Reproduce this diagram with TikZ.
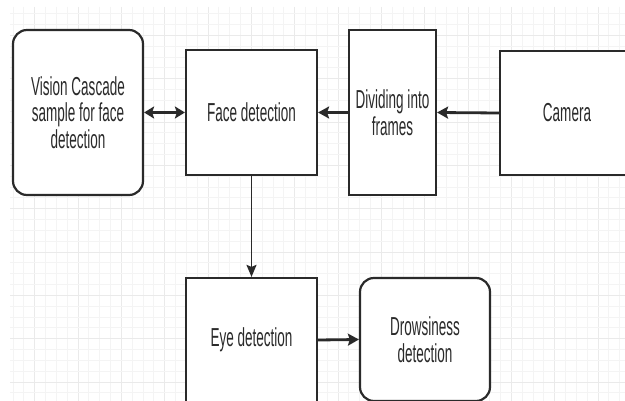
\documentclass[tikz,border=0pt]{standalone}
\usepackage{fontspec}
\setmainfont[FakeStretch=0.52]{Liberation Sans}
\usetikzlibrary{arrows.meta}
\definecolor{gridminor}{HTML}{F4F4F4}
\definecolor{gridmajor}{HTML}{EAEAEA}
\definecolor{ink}{HTML}{2A2A2A}
\tikzset{
  box/.style={draw=ink, line width=2.2pt, fill=white, inner sep=0pt, align=center,
    text=ink, font=\fontsize{26}{26.5}\selectfont},
  rbox/.style={box, rounded corners=14pt},
  conn/.style={draw=ink, line width=2.8pt, -{Stealth[length=11pt,width=12pt,inset=2pt]}},
  vconn/.style={draw=ink, line width=1.8pt, -{Stealth[length=12pt,width=10pt,inset=2pt]}},
  dconn/.style={draw=ink, line width=2.8pt, {Stealth[length=10pt,width=12pt,inset=2pt]}-{Stealth[length=10pt,width=12pt,inset=2pt]}}
}
\begin{document}
\begin{tikzpicture}[x=1pt,y=-1pt]
\useasboundingbox (0,0) rectangle (625,401);
\clip (0,0) rectangle (625,401);
\fill[white] (0,0) rectangle (625,401);
% grid
\foreach \i in {1,...,57} {
  \pgfmathsetmacro{\gx}{2.17+10.833*\i}
  \pgfmathtruncatemacro{\m}{mod(\i-3,4)}
  \ifnum\m=0
    \draw[gridmajor, line width=0.9pt] (\gx,7) -- (\gx,401);
  \else
    \draw[gridminor, line width=0.8pt] (\gx,7) -- (\gx,401);
  \fi
}
\foreach \j in {0,...,36} {
  \pgfmathsetmacro{\gy}{13.64+10.833*\j}
  \pgfmathtruncatemacro{\m}{mod(\j-2,4)}
  \ifnum\m=0
    \draw[gridmajor, line width=0.9pt] (10,\gy) -- (625,\gy);
  \else
    \draw[gridminor, line width=0.8pt] (10,\gy) -- (625,\gy);
  \fi
}
% nodes
\node[rbox, minimum width=130pt, minimum height=165pt] (vc) at (78,112.5) {Vision Cascade\\sample for face\\detection};
\node[box, minimum width=131pt, minimum height=125pt] (face) at (251.5,112.5) {Face detection};
\node[box, minimum width=87pt, minimum height=165pt] (div) at (392.5,112.5) {Dividing into\\frames};
\node[box, minimum width=134pt, minimum height=124pt] (cam) at (567,113) {Camera};
\node[box, minimum width=131pt, minimum height=124pt] (eye) at (251.5,340) {Eye detection};
\node[rbox, minimum width=130pt, minimum height=123pt] (drow) at (425,339.5) {Drowsiness\\detection};
% connectors
\draw[dconn] (vc.east) -- (face.west);
\draw[conn] (div.west) -- (face.east);
\draw[conn] (cam.west) -- (div.east);
\draw[vconn] (face.south) -- (eye.north);
\draw[conn] (eye.east) -- (drow.west);
\end{tikzpicture}
\end{document}
